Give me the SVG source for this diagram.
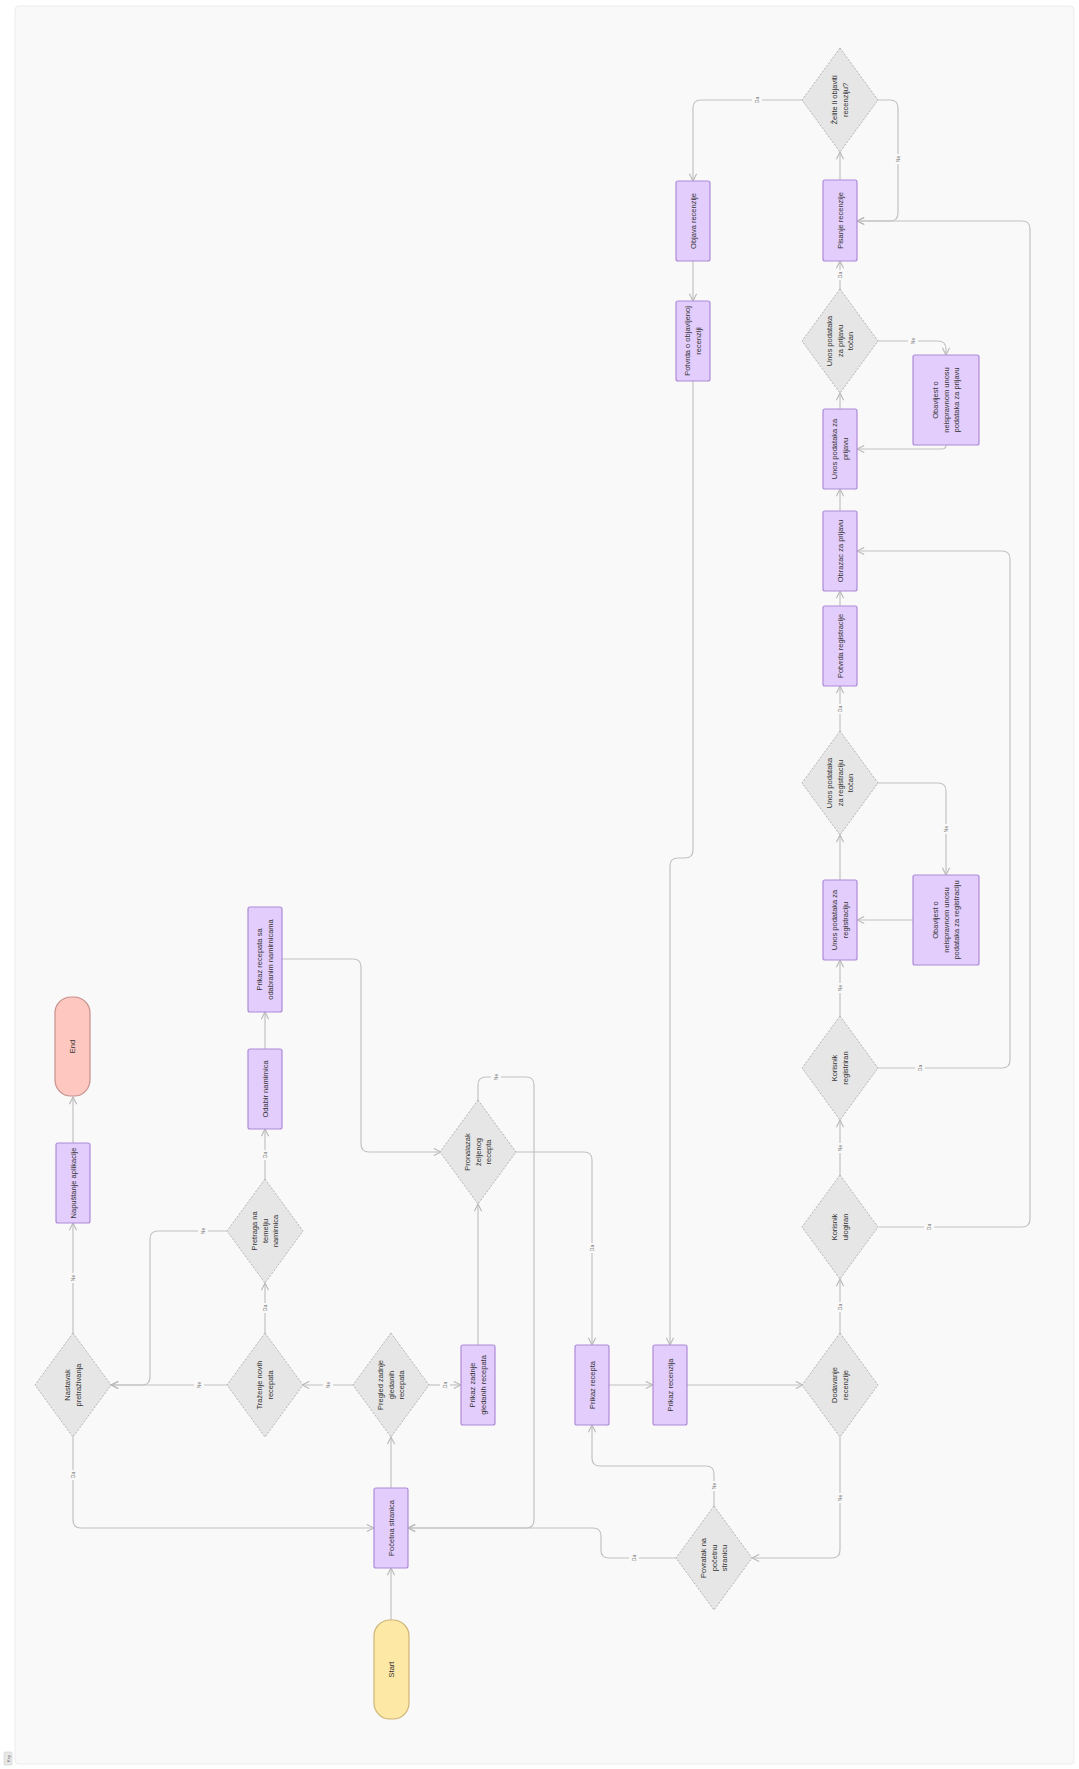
<svg xmlns="http://www.w3.org/2000/svg" width="1079" height="1769" viewBox="0 0 1079 1769">
<defs>
<style>
.bg{fill:#f9f9f9;stroke:#ececec;stroke-width:1}
.box{fill:#e3cdfc;stroke:#ad8ad8;stroke-width:1.2}
.dia{fill:#e6e6e6;stroke:#b4b4b4;stroke-width:1;stroke-dasharray:2 1.5}
.start{fill:#fee8a6;stroke:#cdb476;stroke-width:1.2}
.end{fill:#fec8c1;stroke:#c58f8c;stroke-width:1.2}
.t{font-family:"Liberation Sans",Arial,sans-serif;font-size:7.5px;fill:#333;text-anchor:middle}
.c{fill:none;stroke:#c2c2c2;stroke-width:1.2}
.ca{fill:none;stroke:#c2c2c2;stroke-width:1.2;marker-end:url(#ah)}
.lb{fill:#f9f9f9}
.lt{font-family:"Liberation Sans",Arial,sans-serif;font-size:5px;fill:#777;text-anchor:middle}
</style>
<marker id="ah" viewBox="0 0 10 10" refX="9" refY="5" markerWidth="9" markerHeight="9" markerUnits="userSpaceOnUse" orient="auto">
<path d="M1,1 L9,5 L1,9" fill="none" stroke="#b8b8b8" stroke-width="1.2"/>
</marker>
</defs>
<rect x="0" y="0" width="1079" height="1769" fill="#ffffff"/>
<rect class="bg" x="15" y="6" width="1059" height="1758" rx="4"/>
<g id="key">
<rect x="4" y="1752" width="8" height="13" rx="1" fill="#e8e8e8" stroke="#cfcfcf" stroke-width="0.6"/>
<text transform="translate(8,1758.5) rotate(-90)" y="1.5" style="font-family:'Liberation Sans',Arial,sans-serif;font-size:4px;fill:#666;text-anchor:middle">Key</text>
</g>

<g id="connectors">
<path class="ca" d="M391,1620 L391,1568"/>
<path class="ca" d="M391,1488 L391,1437"/>
<path class="ca" d="M353,1385 L302,1385"/>
<path class="ca" d="M429,1385 L461,1385"/>
<path class="ca" d="M227,1385 L111,1385"/>
<path class="ca" d="M265,1333 L265,1283"/>
<path class="ca" d="M227,1231 L158,1231 Q150,1231 150,1239 L150,1377 Q150,1385 142,1385 L111,1385"/>
<path class="ca" d="M265,1179 L265,1129"/>
<path class="ca" d="M265,1049 L265,1012"/>
<path class="ca" d="M282,959 L353,959 Q361,959 361,967 L361,1144 Q361,1152 369,1152 L441,1152"/>
<path class="ca" d="M478,1101 L478,1085 Q478,1077 486,1077 L526,1077 Q534,1077 534,1085 L534,1520 Q534,1528 526,1528 L408,1528"/>
<path class="ca" d="M515,1152 L584,1152 Q592,1152 592,1160 L592,1345"/>
<path class="ca" d="M478,1345 L478,1204"/>
<path class="ca" d="M609,1385 L653,1385"/>
<path class="ca" d="M687,1385 L803,1385"/>
<path class="ca" d="M840,1437 L840,1550 Q840,1558 832,1558 L752,1558"/>
<path class="ca" d="M676,1558 L609,1558 Q601,1558 601,1550 L601,1536 Q601,1528 593,1528 L408,1528"/>
<path class="ca" d="M714,1507 L714,1474 Q714,1466 706,1466 L600,1466 Q592,1466 592,1458 L592,1425"/>
<path class="ca" d="M73,1437 L73,1520 Q73,1528 81,1528 L374,1528"/>
<path class="ca" d="M73,1333 L73,1223"/>
<path class="ca" d="M73,1143 L73,1097"/>
<path class="ca" d="M840,1333 L840,1279"/>
<path class="ca" d="M840,1175 L840,1120"/>
<path class="ca" d="M879,1227 L1022,1227 Q1030,1227 1030,1219 L1030,229 Q1030,221 1022,221 L857,221"/>
<path class="ca" d="M840,1016 L840,960"/>
<path class="ca" d="M878,1068 L1002,1068 Q1010,1068 1010,1060 L1010,559 Q1010,551 1002,551 L857,551"/>
<path class="ca" d="M840,880 L840,835"/>
<path class="ca" d="M878,783 L938,783 Q946,783 946,791 L946,875"/>
<path class="ca" d="M913,920 L857,920"/>
<path class="ca" d="M840,731 L840,686"/>
<path class="ca" d="M840,606 L840,591"/>
<path class="ca" d="M840,511 L840,489"/>
<path class="ca" d="M840,409 L840,393"/>
<path class="ca" d="M878,341 L938,341 Q946,341 946,349 L946,355"/>
<path class="ca" d="M946,445 Q946,449 942,449 L857,449"/>
<path class="ca" d="M840,289 L840,261"/>
<path class="ca" d="M840,180 L840,152"/>
<path class="ca" d="M878,100 L890,100 Q898,100 898,108 L898,213 Q898,221 890,221 L857,221"/>
<path class="ca" d="M803,100 L701,100 Q693,100 693,108 L693,181"/>
<path class="ca" d="M693,261 L693,301"/>
<path class="ca" d="M693,381 L693,850 Q693,858 685,858 L678,858 Q670,858 670,866 L670,1345"/>

<g id="edge-labels">
<rect class="lb" x="323" y="1380" width="10" height="10"/><text class="lt" transform="translate(328,1385) rotate(-90)" y="1.8">Ne</text>
<rect class="lb" x="440" y="1380" width="10" height="10"/><text class="lt" transform="translate(445,1385) rotate(-90)" y="1.8">Da</text>
<rect class="lb" x="194" y="1380" width="10" height="10"/><text class="lt" transform="translate(199,1385) rotate(-90)" y="1.8">Ne</text>
<rect class="lb" x="260" y="1303" width="10" height="10"/><text class="lt" transform="translate(265,1308) rotate(-90)" y="1.8">Da</text>
<rect class="lb" x="198" y="1226" width="10" height="10"/><text class="lt" transform="translate(203,1231) rotate(-90)" y="1.8">Ne</text>
<rect class="lb" x="260" y="1150" width="10" height="10"/><text class="lt" transform="translate(265,1155) rotate(-90)" y="1.8">Da</text>
<rect class="lb" x="491" y="1072" width="10" height="10"/><text class="lt" transform="translate(496,1077) rotate(-90)" y="1.8">Ne</text>
<rect class="lb" x="587" y="1243" width="10" height="10"/><text class="lt" transform="translate(592,1248) rotate(-90)" y="1.8">Da</text>
<rect class="lb" x="835" y="1493" width="10" height="10"/><text class="lt" transform="translate(840,1498) rotate(-90)" y="1.8">Ne</text>
<rect class="lb" x="629" y="1553" width="10" height="10"/><text class="lt" transform="translate(634,1558) rotate(-90)" y="1.8">Da</text>
<rect class="lb" x="709" y="1481" width="10" height="10"/><text class="lt" transform="translate(714,1486) rotate(-90)" y="1.8">Ne</text>
<rect class="lb" x="68" y="1470" width="10" height="10"/><text class="lt" transform="translate(73,1475) rotate(-90)" y="1.8">Da</text>
<rect class="lb" x="68" y="1273" width="10" height="10"/><text class="lt" transform="translate(73,1278) rotate(-90)" y="1.8">Ne</text>
<rect class="lb" x="835" y="1302" width="10" height="10"/><text class="lt" transform="translate(840,1307) rotate(-90)" y="1.8">Da</text>
<rect class="lb" x="835" y="1143" width="10" height="10"/><text class="lt" transform="translate(840,1148) rotate(-90)" y="1.8">Ne</text>
<rect class="lb" x="924" y="1222" width="10" height="10"/><text class="lt" transform="translate(929,1227) rotate(-90)" y="1.8">Da</text>
<rect class="lb" x="835" y="983" width="10" height="10"/><text class="lt" transform="translate(840,988) rotate(-90)" y="1.8">Ne</text>
<rect class="lb" x="915" y="1063" width="10" height="10"/><text class="lt" transform="translate(920,1068) rotate(-90)" y="1.8">Da</text>
<rect class="lb" x="941" y="824" width="10" height="10"/><text class="lt" transform="translate(946,829) rotate(-90)" y="1.8">Ne</text>
<rect class="lb" x="835" y="704" width="10" height="10"/><text class="lt" transform="translate(840,709) rotate(-90)" y="1.8">Da</text>
<rect class="lb" x="908" y="336" width="10" height="10"/><text class="lt" transform="translate(913,341) rotate(-90)" y="1.8">Ne</text>
<rect class="lb" x="835" y="270" width="10" height="10"/><text class="lt" transform="translate(840,275) rotate(-90)" y="1.8">Da</text>
<rect class="lb" x="893" y="154" width="10" height="10"/><text class="lt" transform="translate(898,159) rotate(-90)" y="1.8">Ne</text>
<rect class="lb" x="752" y="95" width="10" height="10"/><text class="lt" transform="translate(757,100) rotate(-90)" y="1.8">Da</text>
</g>
</g>

<g id="n-start"><rect class="start" x="374" y="1620" width="35" height="99" rx="16"/><text class="t" transform="translate(391.5,1669.5) rotate(-90)"><tspan x="0" y="2.6">Start</tspan></text></g>
<g id="n-end"><rect class="end" x="55" y="997" width="35" height="99" rx="16"/><text class="t" transform="translate(72.5,1046.5) rotate(-90)"><tspan x="0" y="2.6">End</tspan></text></g>

<g id="n-pocetna"><rect class="box" x="374" y="1488" width="34" height="80" rx="2"/><text class="t" transform="translate(391,1528) rotate(-90)"><tspan x="0" y="2.6">Početna stranica</tspan></text></g>
<g id="n-pregled"><polygon class="dia" points="391,1333 429,1385 391,1437 353,1385"/><text class="t" transform="translate(391,1385) rotate(-90)"><tspan x="0" y="-7.9">Pregled zadnje</tspan><tspan x="0" y="2.6">gledanih</tspan><tspan x="0" y="13.1">recepata</tspan></text></g>
<g id="n-prikaz-zadnje"><rect class="box" x="461" y="1345" width="34" height="80" rx="2"/><text class="t" transform="translate(478,1385) rotate(-90)"><tspan x="0" y="-2.65">Prikaz zadnje</tspan><tspan x="0" y="7.85">gledanih recepata</tspan></text></g>
<g id="n-trazenje"><polygon class="dia" points="265,1333 303,1385 265,1437 227,1385"/><text class="t" transform="translate(265,1385) rotate(-90)"><tspan x="0" y="-2.65">Traženje novih</tspan><tspan x="0" y="7.85">recepata</tspan></text></g>
<g id="n-nastavak"><polygon class="dia" points="73,1333 111,1385 73,1437 35,1385"/><text class="t" transform="translate(73,1385) rotate(-90)"><tspan x="0" y="-2.65">Nastavak</tspan><tspan x="0" y="7.85">pretraživanja</tspan></text></g>
<g id="n-napustanje"><rect class="box" x="56" y="1143" width="34" height="80" rx="2"/><text class="t" transform="translate(73,1183) rotate(-90)"><tspan x="0" y="2.6">Napuštanje aplikacije</tspan></text></g>
<g id="n-pretraga"><polygon class="dia" points="265,1179 303,1231 265,1283 227,1231"/><text class="t" transform="translate(265,1231) rotate(-90)"><tspan x="0" y="-7.9">Pretraga na</tspan><tspan x="0" y="2.6">temelju</tspan><tspan x="0" y="13.1">namirnica</tspan></text></g>
<g id="n-odabir"><rect class="box" x="248" y="1049" width="34" height="80" rx="2"/><text class="t" transform="translate(265,1089) rotate(-90)"><tspan x="0" y="2.6">Odabir namirnica</tspan></text></g>
<g id="n-prikaz-sa"><rect class="box" x="248" y="907" width="34" height="105" rx="2"/><text class="t" transform="translate(265,959.5) rotate(-90)"><tspan x="0" y="-2.65">Prikaz recepata sa</tspan><tspan x="0" y="7.85">odabranim namirnicama</tspan></text></g>
<g id="n-pronalazak"><polygon class="dia" points="478,1100 516,1152 478,1204 440,1152"/><text class="t" transform="translate(478,1152) rotate(-90)"><tspan x="0" y="-7.9">Pronalazak</tspan><tspan x="0" y="2.6">željenog</tspan><tspan x="0" y="13.1">recepta</tspan></text></g>
<g id="n-prikaz-recepta"><rect class="box" x="575" y="1345" width="34" height="80" rx="2"/><text class="t" transform="translate(592,1385) rotate(-90)"><tspan x="0" y="2.6">Prikaz recepta</tspan></text></g>
<g id="n-prikaz-recenzija"><rect class="box" x="653" y="1345" width="34" height="80" rx="2"/><text class="t" transform="translate(670,1385) rotate(-90)"><tspan x="0" y="2.6">Prikaz recenzija</tspan></text></g>
<g id="n-povratak"><polygon class="dia" points="714,1506 752,1558 714,1610 676,1558"/><text class="t" transform="translate(714,1558) rotate(-90)"><tspan x="0" y="-7.9">Povratak na</tspan><tspan x="0" y="2.6">početnu</tspan><tspan x="0" y="13.1">stranicu</tspan></text></g>
<g id="n-dodavanje"><polygon class="dia" points="840,1333 878,1385 840,1437 802,1385"/><text class="t" transform="translate(840,1385) rotate(-90)"><tspan x="0" y="-2.65">Dodavanje</tspan><tspan x="0" y="7.85">recenzije</tspan></text></g>
<g id="n-ulogiran"><polygon class="dia" points="840,1175 878,1227 840,1279 802,1227"/><text class="t" transform="translate(840,1227) rotate(-90)"><tspan x="0" y="-2.65">Korisnik</tspan><tspan x="0" y="7.85">ulogiran</tspan></text></g>
<g id="n-registriran"><polygon class="dia" points="840,1016 878,1068 840,1120 802,1068"/><text class="t" transform="translate(840,1068) rotate(-90)"><tspan x="0" y="-2.65">Korisnik</tspan><tspan x="0" y="7.85">registriran</tspan></text></g>
<g id="n-unos-reg"><rect class="box" x="823" y="880" width="34" height="80" rx="2"/><text class="t" transform="translate(840,920) rotate(-90)"><tspan x="0" y="-2.65">Unos podataka za</tspan><tspan x="0" y="7.85">registraciju</tspan></text></g>
<g id="n-obavijest-reg"><rect class="box" x="913" y="875" width="66" height="90" rx="2"/><text class="t" transform="translate(946,920) rotate(-90)"><tspan x="0" y="-7.9">Obavijest o</tspan><tspan x="0" y="2.6">neispravnom unosu</tspan><tspan x="0" y="13.1">podataka za registraciju</tspan></text></g>
<g id="n-unos-reg-tocan"><polygon class="dia" points="840,731 878,783 840,835 802,783"/><text class="t" transform="translate(840,783) rotate(-90)"><tspan x="0" y="-7.9">Unos podataka</tspan><tspan x="0" y="2.6">za registraciju</tspan><tspan x="0" y="13.1">točan</tspan></text></g>
<g id="n-potvrda-reg"><rect class="box" x="823" y="606" width="34" height="80" rx="2"/><text class="t" transform="translate(840,646) rotate(-90)"><tspan x="0" y="2.6">Potvrda registracije</tspan></text></g>
<g id="n-obrazac"><rect class="box" x="823" y="511" width="34" height="80" rx="2"/><text class="t" transform="translate(840,551) rotate(-90)"><tspan x="0" y="2.6">Obrazac za prijavu</tspan></text></g>
<g id="n-unos-prijava"><rect class="box" x="823" y="409" width="34" height="80" rx="2"/><text class="t" transform="translate(840,449) rotate(-90)"><tspan x="0" y="-2.65">Unos podataka za</tspan><tspan x="0" y="7.85">prijavu</tspan></text></g>
<g id="n-obavijest-prijava"><rect class="box" x="913" y="355" width="66" height="90" rx="2"/><text class="t" transform="translate(946,400) rotate(-90)"><tspan x="0" y="-7.9">Obavijest o</tspan><tspan x="0" y="2.6">neispravnom unosu</tspan><tspan x="0" y="13.1">podataka za prijavu</tspan></text></g>
<g id="n-unos-prijava-tocan"><polygon class="dia" points="840,289 878,341 840,393 802,341"/><text class="t" transform="translate(840,341) rotate(-90)"><tspan x="0" y="-7.9">Unos podataka</tspan><tspan x="0" y="2.6">za prijavu</tspan><tspan x="0" y="13.1">točan</tspan></text></g>
<g id="n-pisanje"><rect class="box" x="823" y="180" width="34" height="81" rx="2"/><text class="t" transform="translate(840,220.5) rotate(-90)"><tspan x="0" y="2.6">Pisanje recenzije</tspan></text></g>
<g id="n-zelite"><polygon class="dia" points="840,48 878,100 840,152 802,100"/><text class="t" transform="translate(840,100) rotate(-90)"><tspan x="0" y="-2.65">Želite li objaviti</tspan><tspan x="0" y="7.85">recenziju?</tspan></text></g>
<g id="n-objava"><rect class="box" x="676" y="181" width="34" height="80" rx="2"/><text class="t" transform="translate(693,221) rotate(-90)"><tspan x="0" y="2.6">Objava recenzije</tspan></text></g>
<g id="n-potvrda-objave"><rect class="box" x="676" y="301" width="34" height="80" rx="2"/><text class="t" transform="translate(693,341) rotate(-90)"><tspan x="0" y="-2.65">Potvrda o objavljenoj</tspan><tspan x="0" y="7.85">recenziji</tspan></text></g>
</svg>
